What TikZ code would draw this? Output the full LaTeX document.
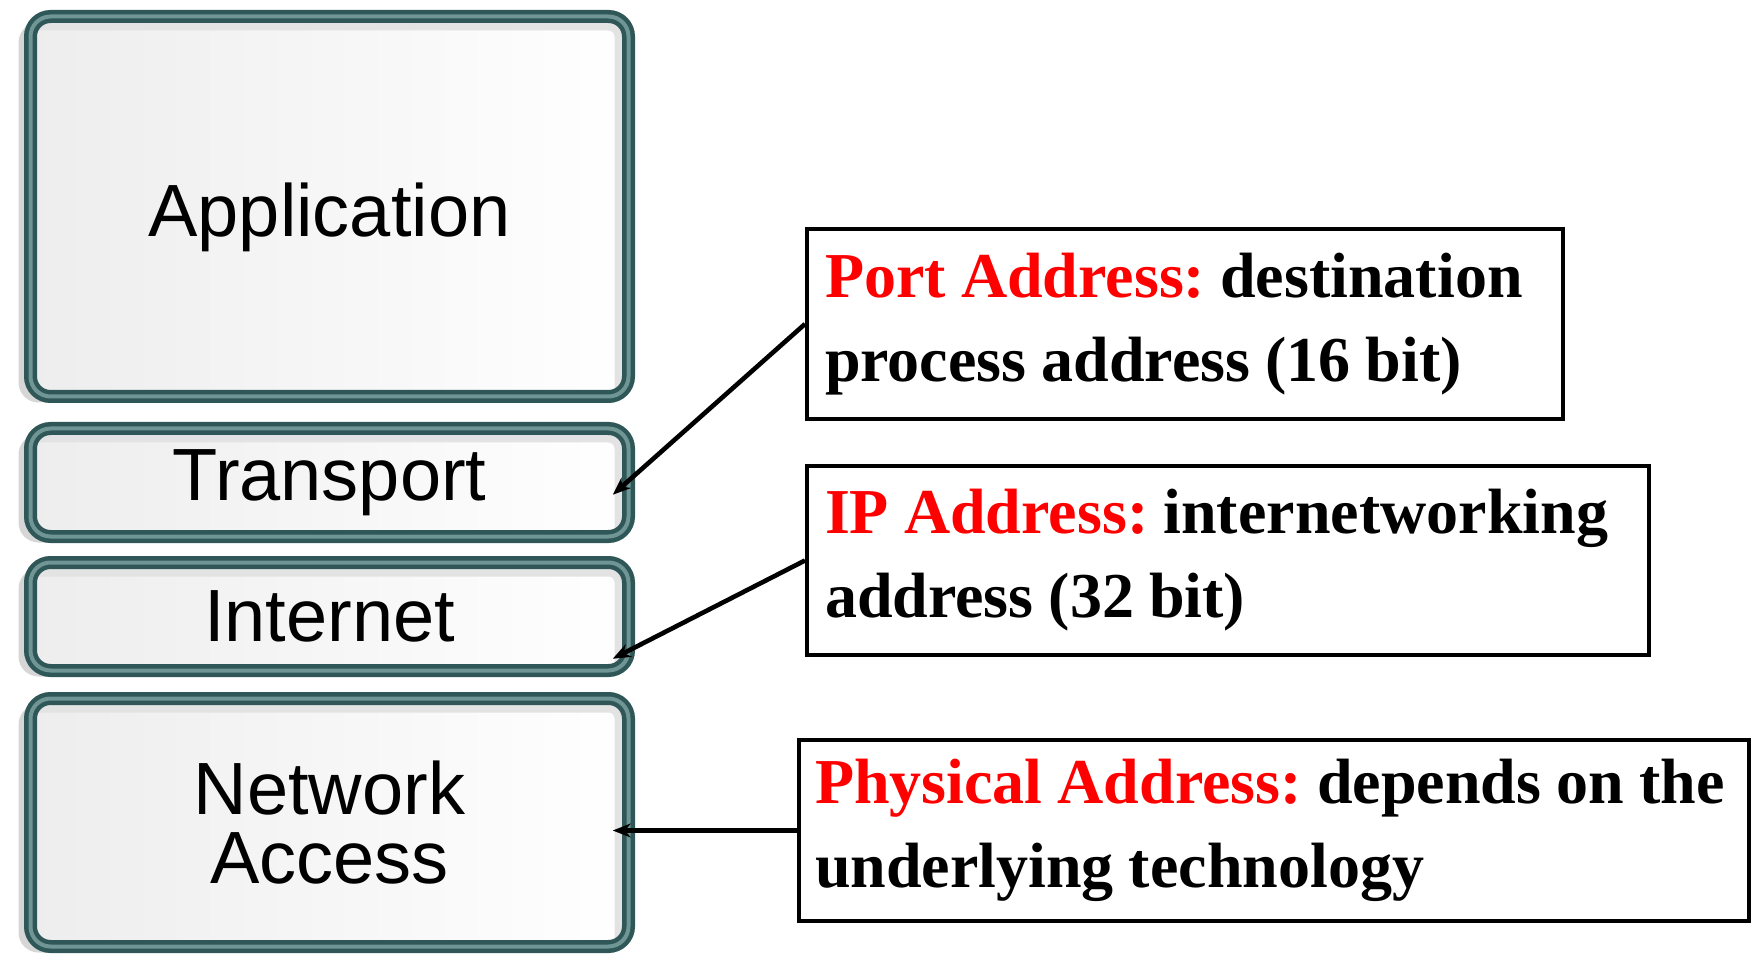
\documentclass[tikz,border=0pt]{standalone}
\usepackage{fontspec}
\setmainfont{Liberation Serif}
\newfontfamily\layerfont{Liberation Sans}
\usetikzlibrary{arrows.meta,shadows}
\definecolor{framedark}{HTML}{2F5757}
\definecolor{framelight}{HTML}{6F9595}
\definecolor{addrred}{HTML}{FF0000}
\newcommand\addrfont{\bfseries\frenchspacing\fontsize{32}{42}\selectfont}

\begin{document}
\begin{tikzpicture}[x=0.5pt, y=-0.5pt,
		layer/.style={rectangle, rounded corners=10pt, draw=framedark, double=framelight, double distance=2pt, line width=2.25pt, left color=gray!14, right color=white, inner sep=0pt, minimum width=299pt, align=center, font=\layerfont\fontsize{37}{34.5}\selectfont, drop shadow={shadow xshift=-6pt, shadow yshift=-3pt, fill=gray!40, opacity=0.8}, path picture={\draw[gray!22, line width=14pt, rounded corners=10pt] (path picture bounding box.south east) -- (path picture bounding box.north east) -- (path picture bounding box.north west);}},
		addr/.style={rectangle, draw, line width=2pt, inner xsep=9pt, inner ysep=0pt, align=left, font=\addrfont, execute at begin node={\spaceskip=7.6pt\xspaceskip=7.6pt\relax}},
		pointer/.style={-{Stealth[length=9pt,width=7pt]}, line width=2.3pt}]
		\useasboundingbox (0,0) rectangle (1753,957);
		
		% layers
		\node[layer, minimum height=190pt, text height=37.5pt] (application) at (329.5,206.5) {Application};
		\node[layer, minimum height=54pt] (transport) at (329.5,482.5) {Transport};
		\node[layer, minimum height=54pt] (internet) at (329.5,616.5) {Internet};
		\node[layer, minimum height=124pt] (access) at (329.5,822.5) {Network\\Access};
		
		% addresses
		\node[addr, minimum width=378pt, minimum height=95pt, text width=360pt] (port) at (1185,324) {\textcolor{addrred}{Port Address:} destination\\process address (16 bit)};
		\node[addr, minimum width=421pt, minimum height=94.5pt, text width=403pt] (ip) at (1228,560.5) {\textcolor{addrred}{IP Address:} internetworking\\address (32 bit)};
		\node[addr, minimum width=475pt, minimum height=90.5pt, text width=459pt, inner xsep=8pt] (physical) at (1274,830.5) {\mbox{\textcolor{addrred}{Physical Address:} depends on the}\\underlying technology};
		
		\draw[pointer] (port.west) -- ([xshift=-9pt, yshift=22pt]transport.south east);
		\draw[pointer] (ip.west) -- ([xshift=-9pt, yshift=7pt]internet.south east);
		\draw[pointer] (physical.west) -- ([xshift=-9pt, yshift=-4pt]access.east);
	\end{tikzpicture}
\end{document}
